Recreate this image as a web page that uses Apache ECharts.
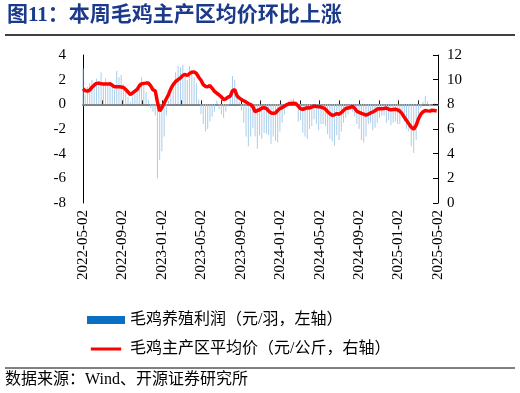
<!DOCTYPE html>
<html>
<head>
<meta charset="utf-8">
<script src="https://cdn.jsdelivr.net/npm/echarts@6/dist/echarts.min.js"></script>
<style>html,body{margin:0;padding:0;background:#fff}#c{width:520px;height:393px}</style>
</head>
<body>
<div id="c"></div>
<script>
// Weekly observations, starting 2022-05-02
const startDate = '2022-05-02';
const weekCount = 157;
const xTickLabels = ['2022-05-02','2022-09-02','2023-01-02','2023-05-02','2023-09-02','2024-01-02','2024-05-02','2024-09-02','2025-01-02','2025-05-02'];
const profit = [2.9,0.8,1.4,1.7,2.0,1.8,2.1,1.9,2.6,1.7,2.1,1.5,1.8,1.6,1.2,2.7,2.2,2.4,1.6,1.2,0.6,0.2,0.6,1.0,1.4,1.8,2.2,1.6,1.0,0.4,
  -0.3,-0.6,-0.9,-6.0,-4.5,-3.8,-2.6,-0.9,0.3,0.8,1.2,2.6,3.1,3.0,3.2,2.4,2.0,3.1,2.8,2.2,1.7,0.4,
  -0.8,-1.6,-2.2,-2.0,-1.4,-1.0,-0.6,0.3,-0.4,-0.8,-1.1,-0.6,-0.2,0.8,2.3,2.0,0.9,0.2,
  -0.5,-1.5,-2.6,-3.4,-2.6,-1.9,-2.6,-3.6,-2.5,-2.8,-2.3,-2.4,-2.5,-3.2,-2.6,-2.95,-3.1,-2.2,-1.5,-0.8,
  -0.1,0.3,0.4,0.45,-0.2,-1.4,-1.3,-2.3,-2.6,-2.8,-2.0,-1.75,-1.2,-1.6,-2.1,-1.6,-1.6,-1.75,-2.4,-2.8,
  -3.0,-3.35,-2.5,-2.9,-2.2,-1.5,-1.1,-0.8,-0.4,-0.6,-1.0,-1.6,-2.0,-2.9,-3.1,-2.6,-1.6,-1.5,-2.1,-1.9,
  -1.5,-1.1,-0.9,-0.9,-1.5,-1.3,-1.7,-1.5,-1.4,-1.6,-1.6,-1.0,-1.4,-2.0,-2.2,-3.4,-3.95,-2.9,-1.2,-0.3,
  0.2,0.7,0.25,-0.15,0.0,0.1,0.05];
const price = [9.26,9.1,9.08,9.15,9.38,9.55,9.7,9.72,9.66,9.64,9.64,9.64,9.67,9.55,9.42,9.42,9.42,9.40,9.37,9.2,
  9.0,8.8,8.92,9.07,9.2,9.5,9.66,9.7,9.72,9.72,9.5,9.18,9.1,8.2,7.45,7.72,8.1,8.45,8.8,9.25,
  9.6,9.85,10.0,10.15,10.35,10.42,10.34,10.5,10.6,10.63,10.5,10.2,9.95,9.6,9.45,9.42,9.52,9.3,9.05,8.9,
  8.76,8.6,8.38,8.45,8.58,8.66,9.1,9.2,8.7,8.52,8.38,8.29,8.18,8.06,7.98,7.8,7.4,7.5,7.56,7.7,
  7.72,7.66,7.45,7.3,7.27,7.3,7.5,7.66,7.74,7.85,7.96,8.05,8.07,8.08,8.06,7.85,7.64,7.6,7.66,7.73,
  7.71,7.78,7.86,7.82,7.8,7.78,7.72,7.62,7.4,7.25,7.1,7.15,7.25,7.2,7.33,7.5,7.66,7.7,7.74,7.85,
  7.68,7.44,7.35,7.27,7.2,7.12,7.2,7.3,7.38,7.48,7.62,7.65,7.65,7.67,7.7,7.6,7.55,7.58,7.6,7.55,
  7.45,7.25,6.95,6.7,6.42,6.15,5.98,6.3,6.85,7.2,7.4,7.5,7.47,7.45,7.52,7.5,7.46];
const seriesNames = ['毛鸡养殖利润（元/羽，左轴）','毛鸡主产区平均价（元/公斤，右轴）'];

// convert a date to months elapsed since 2022-05-02 (axis coordinate)
function monthPos(d) {
  const y = d.getUTCFullYear(), m = d.getUTCMonth(), day = d.getUTCDate();
  const dim = new Date(Date.UTC(y, m + 1, 0)).getUTCDate();
  return (y - 2022) * 12 + (m - 4) + (day - 2) / dim;
}
const t0 = Date.parse(startDate + 'T00:00:00Z');
const xs = [];
for (let i = 0; i < weekCount; i++) xs.push(monthPos(new Date(t0 + i * 7 * 86400000)));

const serif = "'Liberation Serif','Noto Sans CJK SC',serif";
const chart = echarts.init(document.getElementById('c'), null, {renderer: 'canvas'});
chart.setOption({
  animation: false,
  backgroundColor: '#fff',
  grid: {left: 83, right: 82, top: 55, bottom: 190, containLabel: false},
  legend: {
    orient: 'vertical', left: 82, top: 307, itemWidth: 38, itemHeight: 8, itemGap: 13,
    textStyle: {fontFamily: serif, fontSize: 16, color: '#000'},
    data: [
      {name: seriesNames[0], icon: 'rect', itemStyle: {color: '#0a6fc2'}},
      {name: seriesNames[1], icon: 'path://M0,0L38,0L38,0.01L0,0.01Z M0,3.2L38,3.2L38,6.8L0,6.8Z M0,10L38,10L38,10.01L0,10.01Z', itemStyle: {color: '#ff0000'}}
    ]
  },
  xAxis: [
    {
      type: 'value', min: 0, max: 36, interval: 2, position: 'bottom',
      axisLine: {show: false, onZero: false}, axisTick: {show: false}, splitLine: {show: false},
      axisLabel: {
        rotate: 90, margin: 7, fontFamily: serif, fontSize: 15, color: '#000',
        formatter: v => (v % 4 === 0 ? xTickLabels[v / 4] : '')
      }
    },
    {
      type: 'value', min: 0, max: 36, interval: 2, position: 'bottom',
      axisLine: {show: true, onZero: true, onZeroAxisIndex: 0, lineStyle: {color: '#808080', width: 2}},
      axisTick: {show: true, inside: true, length: 4, lineStyle: {color: '#222', width: 1}},
      axisLabel: {show: false}, splitLine: {show: false}
    }
  ],
  yAxis: [
    {
      type: 'value', min: -8, max: 4, interval: 2, position: 'left',
      axisLine: {show: true, onZero: false, lineStyle: {color: '#000', width: 1}},
      axisTick: {show: false}, splitLine: {show: false},
      axisLabel: {margin: 17, fontFamily: serif, fontSize: 15, color: '#000'}
    },
    {
      type: 'value', min: 0, max: 12, interval: 2, position: 'right',
      axisLine: {show: true, onZero: false, lineStyle: {color: '#000', width: 1}},
      axisTick: {show: true, inside: true, length: 5, lineStyle: {color: '#000'}}, splitLine: {show: false},
      axisLabel: {margin: 9, fontFamily: serif, fontSize: 15, color: '#000'}
    }
  ],
  series: [
    {
      name: seriesNames[0], type: 'bar', xAxisIndex: 0, yAxisIndex: 0, barWidth: 1,
      itemStyle: {color: '#a9cdea'},
      data: profit.map((v, i) => [xs[i], v])
    },
    {
      name: seriesNames[1], type: 'line', xAxisIndex: 0, yAxisIndex: 1, symbol: 'none',
      lineStyle: {color: '#ff0000', width: 3.5}, itemStyle: {color: '#ff0000'},
      data: price.map((v, i) => [xs[i], v])
    }
  ],
  graphic: [
    {type: 'text', left: 7, top: 5, style: {text: '图11：本周毛鸡主产区均价环比上涨', fill: '#1c3a8c', font: "bold 21px 'Liberation Serif','Noto Sans CJK SC',serif"}},
    {type: 'line', shape: {x1: 5, y1: 35, x2: 515, y2: 35}, style: {stroke: '#000', lineWidth: 1.5}},
    {type: 'line', shape: {x1: 5, y1: 368, x2: 515, y2: 368}, style: {stroke: '#000', lineWidth: 1}},
    {type: 'text', left: 5, top: 372, style: {text: '数据来源：Wind、开源证券研究所', fill: '#000', font: "16px 'Liberation Serif','Noto Sans CJK SC',serif"}}
  ]
});
</script>
</body>
</html>
